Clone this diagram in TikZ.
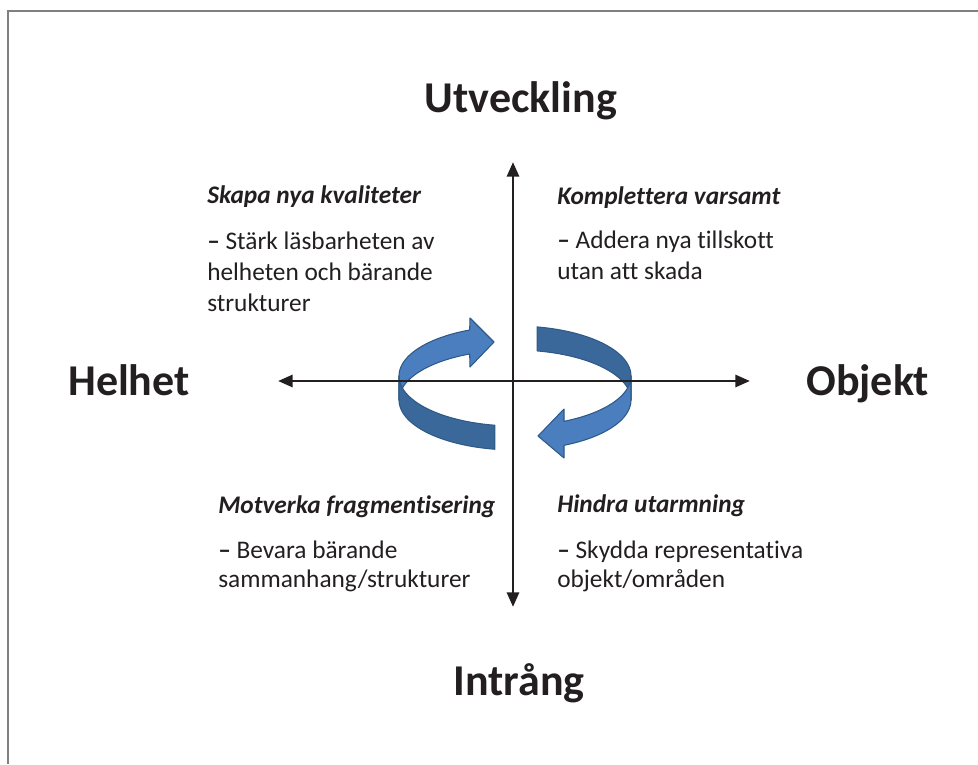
\documentclass[tikz,border=0pt]{standalone}
\usepackage{fontspec}
\setmainfont{Carlito}[Ligatures=NoCommon]
\usetikzlibrary{arrows.meta}
\definecolor{ringlight}{HTML}{4A7EBF}
\definecolor{ringdark}{HTML}{3A689A}
\definecolor{ringedge}{HTML}{2F5A86}
\definecolor{inktext}{HTML}{231F20}
\tikzset{
    x=0.75pt, y=-0.75pt, % one unit is one pixel of the page
    axis/.style={line width=2.2pt, inktext, {Triangle[length=11pt,width=9pt]}-{Triangle[length=11pt,width=9pt]}}, % the two axes
    pole/.style={font=\fontsize{33}{40}\selectfont\bfseries, text=inktext, inner sep=0pt}, % the four end words
    quadhead/.style={font=\fontsize{19}{23}\selectfont\bfseries\itshape, text=inktext, inner sep=0pt, anchor=base west},
    quadbody/.style={font=\fontsize{19}{23}\selectfont, text=inktext, inner sep=0pt, anchor=base west, align=left}, % placed at its last line
    quadbodylow/.style={quadbody, font=\fontsize{19}{21.5}\selectfont},
    ribbon/.style={draw=ringedge, line width=0.8pt, line join=round}, % the turning arrows
}

\begin{document}
\begin{tikzpicture}
    \useasboundingbox (0,0) rectangle (978,764);
    \draw[gray, line width=1.2pt] (8,764) -- (8,11) -- (978,11);

    % turning arrows, back parts first
    \filldraw[ribbon, fill=ringlight] plot[domain=180:247, samples=30] ({515+116*cos(\x)},{376+50*sin(\x)})
        -- (470,318) -- (494,342) -- (470,367)
        -- plot[domain=247:180, samples=30] ({515+116*cos(\x)},{400+50*sin(\x)}) -- cycle;
    \filldraw[ribbon, fill=ringdark] plot[domain=281:360, samples=30] ({515+116*cos(\x)},{376+50*sin(\x)})
        -- plot[domain=360:281, samples=30] ({515+116*cos(\x)},{400+50*sin(\x)}) -- cycle;
    \filldraw[ribbon, fill=ringdark] plot[domain=100:180, samples=30] ({515+116*cos(\x)},{376+50*sin(\x)})
        -- plot[domain=180:100, samples=30] ({515+116*cos(\x)},{400+50*sin(\x)}) -- cycle;
    \filldraw[ribbon, fill=ringlight] plot[domain=0:65, samples=30] ({515+116*cos(\x)},{376+50*sin(\x)})
        -- (564,409) -- (538,436) -- (564,458)
        -- plot[domain=65:0, samples=30] ({515+116*cos(\x)},{400+50*sin(\x)}) -- cycle;

    \coordinate (west) at (278,381);
    \coordinate (east) at (750,381);
    \coordinate (north) at (513,162);
    \coordinate (south) at (513,607);
    \draw[axis] (west) -- (east);
    \draw[axis] (north) -- (south);

    \node[pole, anchor=base] (up) at (521,112) {Utveckling};
    \node[pole, anchor=base] (down) at (519,695) {Intrång};
    \node[pole, anchor=base west] (whole) at (68,395) {Helhet};
    \node[pole, anchor=base west] (object) at (806,395) {Objekt};

    \node[quadhead] (nwhead) at (207,203) {Skapa nya kvaliteter};
    \node[quadbody] (nwbody) at (207,311) {{\bfseries –} Stärk läsbarheten av\\helheten och bärande\\strukturer};
    \node[quadhead] (nehead) at (557,204) {Komplettera varsamt};
    \node[quadbody] (nebody) at (557,279) {{\bfseries –} Addera nya tillskott\\utan att skada};
    \node[quadhead] (swhead) at (218,513) {Motverka fragmentisering};
    \node[quadbodylow] (swbody) at (218,587) {{\bfseries –} Bevara bärande\\sammanhang/strukturer};
    \node[quadhead] (sehead) at (557,512) {Hindra utarmning};
    \node[quadbodylow] (sebody) at (557,587) {{\bfseries –} Skydda representativa\\objekt/områden};
\end{tikzpicture}
\end{document}
